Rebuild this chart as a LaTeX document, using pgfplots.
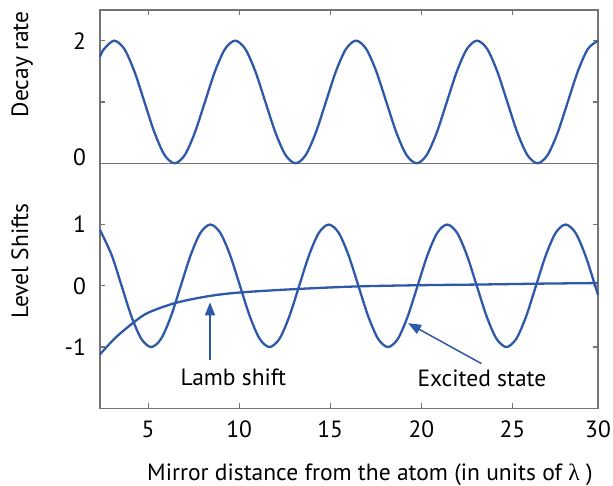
\documentclass[border=0pt]{standalone}
\usepackage{fontspec}
\setmainfont{PT Sans}
\newfontfamily\greekfont{Liberation Serif}
\usepackage{pgfplots}
\pgfplotsset{compat=1.18}
\usetikzlibrary{arrows.meta}
\definecolor{curveblue}{RGB}{46,88,168}
\definecolor{framegray}{RGB}{115,115,115}

\begin{document}
\fontsize{23.5}{28}\selectfont
\begin{tikzpicture}
\pgfplotsset{
  panel/.style={
    scale only axis, width=498pt, xmin=2.36, xmax=29.7, clip=false,
    axis line style={framegray, line width=1.2pt},
    major tick style={framegray, line width=1.1pt}, major tick length=5pt,
    tick align=inside,
    every tick label/.append style={font=\fontsize{23.5}{28}\selectfont, text=black},
    yticklabel style={xshift=-6pt},
    xticklabel style={anchor=base, yshift=-29.5pt},
  },
  wave/.style={curveblue, line width=2.3pt, smooth, mark=none},
}
\useasboundingbox (-100pt,-77.7pt) rectangle (513pt,408.3pt);

% lower panel: level shifts
\begin{axis}[panel, name=bot, at={(0pt,0pt)}, anchor=south west,
  height=245pt, ymin=-2, ymax=2,
  ytick={-1,0,1}, yticklabels={-1,0,1},
  xtick={5,10,15,20,25,29.7}, xticklabels={5,10,15,20,25,30},
  xtick pos=left,
  xlabel={Mirror distance from the atom (in units of {\greekfont λ} )},
  every axis x label/.style={at={(axis description cs:0.542,-0.294)}, anchor=base},
  ylabel={Level Shifts},
  every axis y label/.style={at={(axis description cs:-0.161,0.601)}, rotate=90, anchor=center},
]
\addplot[wave] coordinates {
(2.36,0.911) (3.003,0.5) (3.545,0) (4.087,-0.5) (4.628,-0.866) (5.170,-1)
(5.712,-0.866) (6.253,-0.5) (6.795,0) (7.337,0.5) (7.878,0.866) (8.420,1)
(8.962,0.866) (9.503,0.5) (10.045,0) (10.587,-0.5) (11.128,-0.866) (11.670,-1)
(12.212,-0.866) (12.753,-0.5) (13.295,0) (13.837,0.5) (14.378,0.866) (14.920,1)
(15.462,0.866) (16.003,0.5) (16.545,0) (17.087,-0.5) (17.628,-0.866) (18.170,-1)
(18.712,-0.866) (19.253,-0.5) (19.795,0) (20.337,0.5) (20.878,0.866) (21.420,1)
(21.962,0.866) (22.503,0.5) (23.045,0) (23.587,-0.5) (24.128,-0.866) (24.670,-1)
(25.212,-0.866) (25.753,-0.5) (26.295,0) (26.837,0.5) (27.378,0.866) (27.920,1)
(28.462,0.866) (29.003,0.5) (29.545,0) (29.700,-0.15)
};
\addplot[wave] coordinates {
(2.36,-1.12) (3.2,-0.85) (4.2,-0.60) (5.0,-0.44) (6.5,-0.28) (8.3,-0.17)
(10.0,-0.11) (13.0,-0.055) (16.5,-0.01) (20.0,0.01) (23.0,0.02) (26.5,0.035) (29.7,0.045)
};
\draw[curveblue, line width=1.5pt, -{Triangle[length=13pt,width=10pt]}]
  (axis cs:8.4,-1.21) -- (axis cs:8.4,-0.27);
\node at (axis cs:9.68,-1.49) {Lamb shift};
\draw[curveblue, line width=1.5pt, -{Triangle[length=13pt,width=10pt]}]
  (axis cs:23.3,-1.27) -- (axis cs:19.27,-0.61);
\node at (axis cs:23.33,-1.51) {Excited state};
\end{axis}

% upper panel: decay rate
\begin{axis}[panel, at={(bot.north west)}, anchor=south west,
  height=153.3pt, ymin=0, ymax=2.5,
  ytick={1,2}, yticklabels={,2},
  extra y ticks={0}, extra y tick labels={0},
  extra y tick style={yticklabel style={yshift=6.5pt}},
  xtick={5,10,15,20,25}, xticklabels={},
  xtick pos=right,
  ylabel={Decay rate},
  every axis y label/.style={at={(axis description cs:-0.156,0.646)}, rotate=90, anchor=center},
]
\addplot[wave] coordinates {
(2.36,1.740) (2.587,1.866) (3.140,2) (3.693,1.866) (4.247,1.5) (4.800,1)
(5.353,0.5) (5.907,0.134) (6.460,0) (7.013,0.134) (7.567,0.5) (8.120,1)
(8.673,1.5) (9.227,1.866) (9.780,2) (10.333,1.866) (10.887,1.5) (11.440,1)
(11.993,0.5) (12.547,0.134) (13.100,0) (13.653,0.134) (14.207,0.5) (14.760,1)
(15.313,1.5) (15.867,1.866) (16.420,2) (16.973,1.866) (17.527,1.5) (18.080,1)
(18.633,0.5) (19.187,0.134) (19.740,0) (20.293,0.134) (20.847,0.5) (21.400,1)
(21.953,1.5) (22.507,1.866) (23.060,2) (23.613,1.866) (24.167,1.5) (24.720,1)
(25.273,0.5) (25.827,0.134) (26.380,0) (26.933,0.134) (27.487,0.5) (28.040,1)
(28.593,1.5) (29.147,1.866) (29.700,2)
};
\end{axis}
\end{tikzpicture}
\end{document}
